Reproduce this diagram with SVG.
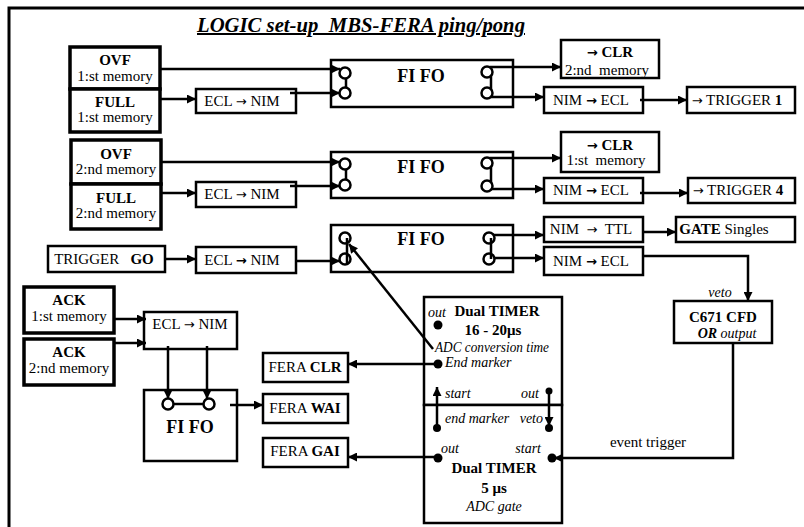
<svg xmlns="http://www.w3.org/2000/svg" width="804" height="527" viewBox="0 0 804 527">
<style>
.b{fill:#fff;stroke:#000;stroke-width:2.5}
.bt{fill:#fff;stroke:#000;stroke-width:3.5}
.c{fill:none;stroke:#000;stroke-width:2.5}
.ci{fill:#fff;stroke:#000;stroke-width:2.5}
.t{font-family:"Liberation Serif","Times New Roman",serif;font-size:15px;fill:#000;text-anchor:middle}
.bo{font-weight:bold}
.ar{font-family:"DejaVu Sans",sans-serif;font-size:13px}
.f{font-family:"Liberation Serif","Times New Roman",serif;font-size:18px;font-weight:bold;fill:#000;text-anchor:middle}
.i{font-family:"Liberation Serif","Times New Roman",serif;font-style:italic;font-size:14px;fill:#000}
</style>
<defs>
<marker id="a" viewBox="0 0 10 10" refX="10" refY="5" markerWidth="10" markerHeight="9" markerUnits="userSpaceOnUse" orient="auto"><path d="M0,0 L10,5 L0,10 z"/></marker>
</defs>
<rect x="9" y="8" width="800" height="530" fill="none" stroke="#000" stroke-width="3"/>
<text x="361" y="32" style="font-family:'Liberation Serif','Times New Roman',serif;font-size:20px;font-weight:bold;font-style:italic;text-decoration:underline" text-anchor="middle" textLength="328" lengthAdjust="spacingAndGlyphs" xml:space="preserve">LOGIC set-up  MBS-FERA ping/pong</text>

<g id="ovf1"><rect class="bt" x="70" y="47" width="90" height="42"/><text class="t bo" x="115" y="65">OVF</text><text class="t" x="115" y="81">1:st memory</text></g>
<g id="full1"><rect class="bt" x="70" y="89" width="90" height="43"/><text class="t bo" x="115" y="107">FULL</text><text class="t" x="115" y="122">1:st memory</text></g>
<g id="ecl1"><rect class="b" x="196" y="89" width="100" height="24"/><text class="t" x="242" y="106">ECL <tspan class="ar">→</tspan> NIM</text></g>
<g id="fifo1"><rect class="b" x="331" y="60" width="182" height="47"/><text class="f" x="421" y="82">FI FO</text></g>
<g id="clr2"><rect class="b" x="561" y="40" width="98" height="38"/><text class="t bo" x="610" y="57"><tspan class="ar">→</tspan> CLR</text><text class="t" x="607" y="75" xml:space="preserve">2:nd  memory</text></g>
<g id="nimecl1"><rect class="b" x="544" y="87" width="99" height="26"/><text class="t" x="591" y="105">NIM <tspan class="ar bo">→</tspan> ECL</text></g>
<g id="trig1"><rect class="b" x="687" y="87" width="108" height="26"/><text class="t" x="737" y="105"><tspan class="ar">→</tspan> TRIGGER <tspan class="bo">1</tspan></text></g>

<g id="ovf2"><rect class="bt" x="71" y="140" width="90" height="44"/><text class="t bo" x="116" y="159">OVF</text><text class="t" x="116" y="174">2:nd memory</text></g>
<g id="full2"><rect class="bt" x="71" y="184" width="90" height="45"/><text class="t bo" x="116" y="203">FULL</text><text class="t" x="116" y="218">2:nd memory</text></g>
<g id="ecl2"><rect class="b" x="196" y="182" width="100" height="25"/><text class="t" x="242" y="199">ECL <tspan class="ar">→</tspan> NIM</text></g>
<g id="fifo2"><rect class="b" x="331" y="152" width="182" height="46"/><text class="f" x="421" y="173">FI FO</text></g>
<g id="clr1"><rect class="b" x="561" y="132" width="98" height="40"/><text class="t bo" x="610" y="150"><tspan class="ar">→</tspan> CLR</text><text class="t" x="606" y="165" xml:space="preserve">1:st  memory</text></g>
<g id="nimecl2"><rect class="b" x="544" y="178" width="99" height="25"/><text class="t" x="591" y="195">NIM <tspan class="ar bo">→</tspan> ECL</text></g>
<g id="trig4"><rect class="b" x="688" y="178" width="107" height="25"/><text class="t" x="738" y="195"><tspan class="ar">→</tspan> TRIGGER <tspan class="bo">4</tspan></text></g>

<g id="trigo"><rect class="b" x="48" y="246" width="117" height="26"/><text class="t" x="104" y="264" xml:space="preserve">TRIGGER   <tspan class="bo">GO</tspan></text></g>
<g id="ecl3"><rect class="b" x="196" y="247" width="100" height="26"/><text class="t" x="242" y="265">ECL <tspan class="ar bo">→</tspan> NIM</text></g>
<g id="fifo3"><rect class="b" x="331" y="225" width="182" height="47"/><text class="f" x="421" y="245">FI FO</text></g>
<g id="nimttl"><rect class="b" x="544" y="217" width="99" height="25"/><text class="t" x="591" y="234" xml:space="preserve">NIM  <tspan class="ar">→</tspan>  TTL</text></g>
<g id="gate"><rect class="b" x="676" y="217" width="119" height="25"/><text class="t" x="724" y="234"><tspan class="bo">GATE</tspan> Singles</text></g>
<g id="nimecl3"><rect class="b" x="544" y="247" width="99" height="28"/><text class="t" x="591" y="266">NIM <tspan class="ar bo">→</tspan> ECL</text></g>

<g id="ack1"><rect class="bt" x="24" y="287" width="90" height="46"/><text class="t bo" x="69" y="305">ACK</text><text class="t" x="69" y="321">1:st memory</text></g>
<g id="ack2"><rect class="bt" x="24" y="339" width="90" height="46"/><text class="t bo" x="69" y="357">ACK</text><text class="t" x="69" y="373">2:nd memory</text></g>
<g id="ecl4"><rect class="b" x="144" y="312" width="93" height="37"/><text class="t" x="190" y="329">ECL <tspan class="ar">→</tspan> NIM</text></g>
<g id="fifo4"><rect class="b" x="144" y="390" width="93" height="71"/><text class="f" x="190" y="433">FI FO</text></g>
<g id="feraclr"><rect class="b" x="263" y="353" width="85" height="29"/><text class="t" x="305" y="372">FERA <tspan class="bo">CLR</tspan></text></g>
<g id="ferawai"><rect class="b" x="263" y="394" width="85" height="29"/><text class="t" x="305" y="413" font-size="14">FERA <tspan class="bo">WAI</tspan></text></g>
<g id="feragai"><rect class="b" x="263" y="438" width="85" height="29"/><text class="t" x="305" y="456" font-size="14">FERA <tspan class="bo">GAI</tspan></text></g>

<g id="timer1"><rect class="b" x="424" y="297" width="138" height="108"/>
<text class="i" x="437" y="317" text-anchor="middle">out</text>
<text class="t bo" x="497" y="316" font-size="17">Dual TIMER</text>
<text class="t bo" x="493" y="335" font-size="17">16 - 20μs</text>
<text class="i" x="435" y="352" textLength="114" lengthAdjust="spacingAndGlyphs">ADC conversion time</text>
<text class="i" x="445" y="367">End marker</text>
<text class="i" x="445" y="398">start</text>
<text class="i" x="539" y="398" text-anchor="end">out</text>
<circle cx="438" cy="325" r="4.5"/>
<circle cx="438" cy="364" r="4.5"/>
</g>
<g id="timer2"><rect class="b" x="424" y="405" width="138" height="118"/>
<text class="i" x="445" y="423">end marker</text>
<text class="i" x="543" y="423" text-anchor="end">veto</text>
<text class="i" x="450" y="453" text-anchor="middle">out</text>
<text class="i" x="541" y="453" text-anchor="end">start</text>
<text class="t bo" x="494" y="473" font-size="17">Dual TIMER</text>
<text class="t bo" x="494" y="493" font-size="17">5 μs</text>
<text class="i" x="494" y="511" text-anchor="middle" font-size="16">ADC gate</text>
<circle cx="438" cy="458" r="4.5"/>
<circle cx="552" cy="458" r="4.5"/>
</g>
<g id="cfd"><rect class="b" x="674" y="301" width="98" height="42"/><text class="t bo" x="723" y="322" font-size="17">C671 CFD</text><text class="i" x="727" y="338" text-anchor="middle" font-size="15"><tspan font-weight="bold">OR</tspan> output</text></g>
<text class="i" x="720" y="297" text-anchor="middle">veto</text>
<text class="t" x="648" y="447" font-size="16">event trigger</text>

<g id="connectors">
<path class="c" d="M160,69 H340" marker-end="url(#a)"/>
<path class="c" d="M160,99 H196" marker-end="url(#a)"/>
<path class="c" d="M290,93 H340" marker-end="url(#a)"/>
<path class="c" d="M490,67 H561" marker-end="url(#a)"/>
<path class="c" d="M490,97 H544" marker-end="url(#a)"/>
<path class="c" d="M640,100 H687" marker-end="url(#a)"/>

<path class="c" d="M161,162 H340" marker-end="url(#a)"/>
<path class="c" d="M161,193 H196" marker-end="url(#a)"/>
<path class="c" d="M290,186 H340" marker-end="url(#a)"/>
<path class="c" d="M490,158 H561" marker-end="url(#a)"/>
<path class="c" d="M490,189 H544" marker-end="url(#a)"/>
<path class="c" d="M640,193 H688" marker-end="url(#a)"/>

<path class="c" d="M165,259 H196" marker-end="url(#a)"/>
<path class="c" d="M296,261 H340" marker-end="url(#a)"/>
<path class="c" d="M490,235 H544" marker-end="url(#a)"/>
<path class="c" d="M490,258 H544" marker-end="url(#a)"/>
<path class="c" d="M643,232 H676" marker-end="url(#a)"/>
<path class="c" d="M643,256 H748 V301" marker-end="url(#a)"/>
<path class="c" d="M433,349 L349,244" marker-end="url(#a)"/>

<path class="c" d="M114,319 H146" marker-end="url(#a)"/>
<path class="c" d="M114,343 H146" marker-end="url(#a)"/>
<path class="c" d="M168,346 V399" marker-end="url(#a)"/>
<path class="c" d="M207,346 V399" marker-end="url(#a)"/>
<path class="c" d="M230,405 H263" marker-end="url(#a)"/>
<path class="c" d="M438,364 H348" marker-end="url(#a)"/>
<path class="c" d="M438,457 H348" marker-end="url(#a)"/>
<path class="c" d="M437,428 V387" marker-end="url(#a)"/>
<circle cx="437" cy="428" r="4"/>
<path class="c" d="M549,392 V426" marker-end="url(#a)"/>
<circle cx="549" cy="391" r="3.5"/>
<circle cx="549" cy="428" r="4"/>
<path class="c" d="M733,343 V458 H554" marker-end="url(#a)"/>

<path class="c" d="M346,73 V93"/><circle class="ci" cx="345" cy="73" r="5.5"/><circle class="ci" cx="345" cy="93" r="5.5"/>
<path class="c" d="M491,72 V93"/><circle class="ci" cx="487" cy="72" r="5.5"/><circle class="ci" cx="487" cy="93" r="5.5"/>
<path class="c" d="M346,164 V185"/><circle class="ci" cx="345" cy="164" r="5.5"/><circle class="ci" cx="345" cy="185" r="5.5"/>
<path class="c" d="M491,163 V186"/><circle class="ci" cx="487" cy="163" r="5.5"/><circle class="ci" cx="487" cy="186" r="5.5"/>
<circle class="ci" cx="345" cy="238" r="5.5"/><circle class="ci" cx="345" cy="259" r="5.5"/><path class="c" d="M347,238 V265"/>
<circle class="ci" cx="489" cy="238" r="5.5"/><circle class="ci" cx="489" cy="259" r="5.5"/><path class="c" d="M491,238 V259"/>
<circle class="ci" cx="168" cy="404" r="5.5"/><circle class="ci" cx="209" cy="404" r="5.5"/><path class="c" d="M173,404 H204" stroke-width="3"/>
</g>
</svg>
